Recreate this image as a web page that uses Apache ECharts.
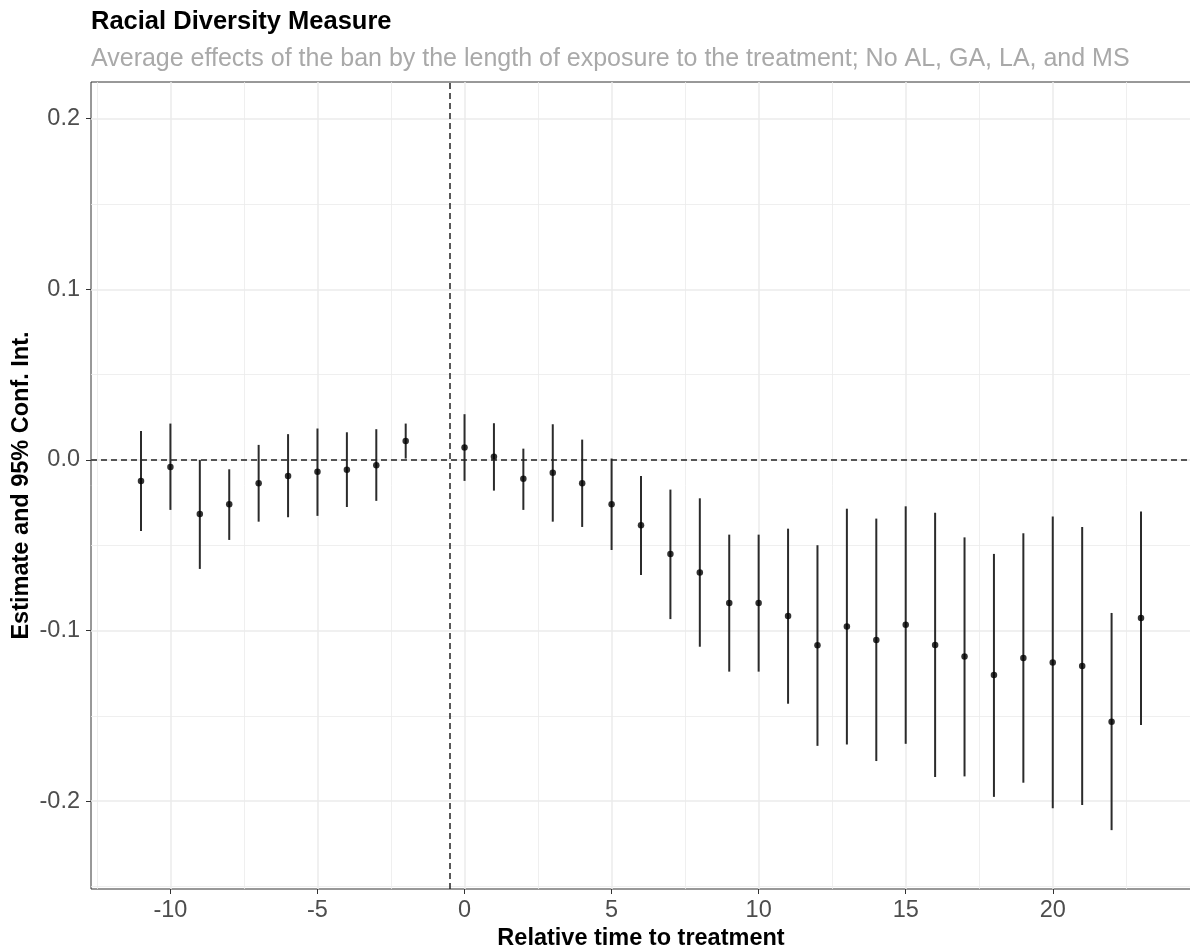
<!DOCTYPE html>
<html>
<head>
<meta charset="utf-8">
<title>Racial Diversity Measure</title>
<script src="https://cdn.jsdelivr.net/npm/echarts@6/dist/echarts.min.js"></script>
<style>
  html, body { margin: 0; padding: 0; background: #ffffff; }
  #chart { width: 1190px; height: 948px; }
</style>
</head>
<body>
<div id="chart"></div>
<script>
// Event-study estimates: relative time to treatment (period -1 is the reference)
const relTime  = [-11, -10, -9, -8, -7, -6, -5, -4, -3, -2,
                   0, 1, 2, 3, 4, 5, 6, 7, 8, 9, 10, 11,
                   12, 13, 14, 15, 16, 17, 18, 19, 20, 21, 22, 23];
const estimate = [-0.0123, -0.0041, -0.0317, -0.0260, -0.0137, -0.0094, -0.0070, -0.0057, -0.0031, 0.0111,
                   0.0072, 0.0018, -0.0111, -0.0076, -0.0137, -0.0260, -0.0383, -0.0551, -0.0660, -0.0839, -0.0839, -0.0915,
                  -0.1087, -0.0976, -0.1056, -0.0966, -0.1085, -0.1153, -0.1261, -0.1161, -0.1187, -0.1208, -0.1535, -0.0927];
const ciLow    = [-0.0416, -0.0293, -0.0639, -0.0469, -0.0362, -0.0336, -0.0328, -0.0276, -0.0240, 0.0008,
                  -0.0123, -0.0180, -0.0293, -0.0362, -0.0393, -0.0528, -0.0674, -0.0933, -0.1095, -0.1241, -0.1241, -0.1429,
                  -0.1676, -0.1668, -0.1765, -0.1664, -0.1859, -0.1855, -0.1975, -0.1892, -0.2041, -0.2023, -0.2170, -0.1554];
const ciHigh   = [0.0170, 0.0213, 0.0000, -0.0055, 0.0088, 0.0151, 0.0184, 0.0162, 0.0180, 0.0213,
                  0.0268, 0.0215, 0.0066, 0.0209, 0.0119, 0.0008, -0.0094, -0.0174, -0.0225, -0.0438, -0.0438, -0.0403,
                  -0.0500, -0.0286, -0.0344, -0.0272, -0.0309, -0.0454, -0.0551, -0.0430, -0.0332, -0.0393, -0.0897, -0.0303];

// Axis breaks
const xMajorTicks = [-10, -5, 0, 5, 10, 15, 20];
const xMinorTicks = [-12.5, -7.5, -2.5, 2.5, 7.5, 12.5, 17.5, 22.5];
const yMajorTicks = [-0.2, -0.1, 0, 0.1, 0.2];
const yMinorTicks = [-0.25, -0.15, -0.05, 0.05, 0.15];

// Reference lines: zero effect and treatment onset
const zeroEffect = 0;
const treatmentOnset = -0.5;

const FONT = 'Liberation Sans, Arial, Helvetica, sans-serif';
const X_MIN = -12.7, X_MAX = 24.7;
const Y_MIN = -0.2515, Y_MAX = 0.2215;

const intervalRows = relTime.map((t, i) => [t, ciLow[i], ciHigh[i]]);
const pointRows = relTime.map((t, i) => [t, estimate[i]]);

const chart = echarts.init(document.getElementById('chart'), null, { renderer: 'canvas' });

chart.setOption({
  animation: false,
  backgroundColor: '#ffffff',
  textStyle: { fontFamily: FONT },
  title: [
    {
      text: 'Racial Diversity Measure',
      left: 91, top: 9, padding: 0,
      textStyle: { fontFamily: FONT, fontSize: 25.5, fontWeight: 'bold', color: '#000000' }
    },
    {
      text: 'Average effects of the ban by the length of exposure to the treatment; No AL, GA, LA, and MS',
      left: 91, top: 47, padding: 0,
      textStyle: { fontFamily: FONT, fontSize: 25, fontWeight: 'normal', color: '#a9a9a9' }
    }
  ],
  grid: {
    left: 91, right: -1, top: 82, bottom: 59,
    containLabel: false, outerBoundsMode: 'none',
    show: true, borderColor: '#333333', borderWidth: 1, backgroundColor: 'transparent'
  },
  xAxis: [
    {
      type: 'value', min: X_MIN, max: X_MAX,
      axisLine: { show: false, onZero: false },
      axisTick: { show: true, customValues: xMajorTicks, length: 5, lineStyle: { color: '#333333', width: 1 } },
      axisLabel: {
        customValues: xMajorTicks, color: '#4d4d4d', fontSize: 23.5, margin: 10, fontFamily: FONT,
        formatter: v => String(Math.round(v))
      },
      splitLine: { show: true, lineStyle: { color: '#ebebeb', width: 1.5 } },
      name: 'Relative time to treatment', nameLocation: 'middle', nameGap: 38, nameMoveOverlap: false,
      nameTextStyle: { fontFamily: FONT, fontSize: 23.5, fontWeight: 'bold', color: '#000000' }
    },
    {
      type: 'value', min: X_MIN, max: X_MAX, position: 'bottom',
      axisLine: { show: false, onZero: false },
      axisTick: { show: false, customValues: xMinorTicks },
      axisLabel: { show: false },
      splitLine: { show: true, lineStyle: { color: '#ebebeb', width: 0.8 } }
    }
  ],
  yAxis: [
    {
      type: 'value', min: Y_MIN, max: Y_MAX,
      axisLine: { show: false, onZero: false },
      axisTick: { show: true, customValues: yMajorTicks, length: 5, lineStyle: { color: '#333333', width: 1 } },
      axisLabel: {
        customValues: yMajorTicks, color: '#4d4d4d', fontSize: 23.5, margin: 11, fontFamily: FONT,
        formatter: v => (Math.abs(v) < 1e-9 ? 0 : v).toFixed(1)
      },
      splitLine: { show: true, lineStyle: { color: '#ebebeb', width: 1.5 } },
      name: 'Estimate and 95% Conf. Int.', nameLocation: 'middle', nameGap: 57, nameMoveOverlap: false,
      nameTextStyle: { fontFamily: FONT, fontSize: 23.5, fontWeight: 'bold', color: '#000000' }
    },
    {
      type: 'value', min: Y_MIN, max: Y_MAX, position: 'left',
      axisLine: { show: false, onZero: false },
      axisTick: { show: false, customValues: yMinorTicks },
      axisLabel: { show: false },
      splitLine: { show: true, lineStyle: { color: '#ebebeb', width: 0.8 } }
    }
  ],
  series: [
    {
      name: 'interval',
      type: 'custom',
      xAxisIndex: 0, yAxisIndex: 0,
      data: intervalRows,
      encode: { x: 0, y: [1, 2] },
      silent: true,
      z: 3,
      renderItem: (params, api) => {
        const p0 = api.coord([api.value(0), api.value(1)]);
        const p1 = api.coord([api.value(0), api.value(2)]);
        return {
          type: 'line',
          shape: { x1: p0[0], y1: p0[1], x2: p1[0], y2: p1[1] },
          style: { stroke: '#2b2b2b', lineWidth: 2 }
        };
      }
    },
    {
      name: 'estimate',
      type: 'scatter',
      xAxisIndex: 0, yAxisIndex: 0,
      data: pointRows,
      symbol: 'circle', symbolSize: 6.5,
      itemStyle: { color: '#000000' },
      silent: true,
      z: 4,
      markLine: {
        silent: true, symbol: 'none', animation: false,
        label: { show: false },
        lineStyle: { color: '#222222', width: 1.5, type: [6, 4] },
        data: [ { yAxis: zeroEffect }, { xAxis: treatmentOnset } ]
      }
    }
  ]
});
</script>
</body>
</html>
